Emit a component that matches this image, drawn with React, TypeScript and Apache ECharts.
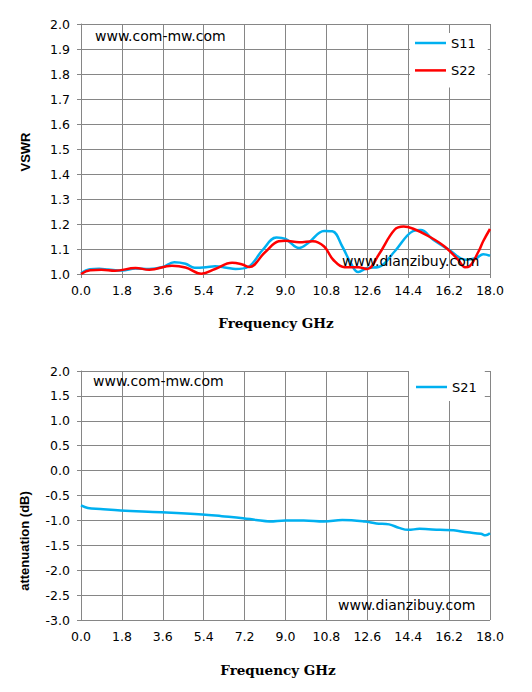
import React, { useEffect, useRef } from "react";
import * as echarts from "echarts";

const xTicks = [0, 1.8, 3.6, 5.4, 7.2, 9.0, 10.8, 12.6, 14.4, 16.2, 18.0];

const s11Freq = [0, 0.4, 0.8, 1.2, 1.8, 2.4, 3.0, 3.6, 4.1, 4.6, 5.0, 5.5, 5.9, 6.4, 6.8, 7.35, 8.0, 8.6, 9.0, 9.6, 10.0, 10.7, 11.06, 11.5, 11.87, 12.2, 12.6, 13.1, 13.8, 14.6, 14.95, 15.5, 16.2, 16.94, 17.4, 17.7, 18.0];
const s11Vals = [1.003, 1.019, 1.021, 1.018, 1.014, 1.022, 1.02, 1.028, 1.047, 1.041, 1.025, 1.027, 1.031, 1.025, 1.02, 1.028, 1.097, 1.146, 1.14, 1.104, 1.124, 1.172, 1.171, 1.11, 1.044, 1.008, 1.024, 1.028, 1.09, 1.171, 1.176, 1.137, 1.097, 1.057, 1.064, 1.079, 1.073];

const s22Freq = [0, 0.4, 0.9, 1.5, 2.4, 3.0, 4.0, 4.6, 5.3, 5.9, 6.65, 7.1, 7.4, 8.1, 8.7, 9.0, 9.6, 10.2, 10.7, 11.1, 11.6, 12.2, 12.6, 13.1, 13.8, 14.2, 14.65, 15.3, 16.0, 16.6, 16.9, 17.1, 17.5, 17.7, 18.0];
const s22Vals = [1.0, 1.015, 1.017, 1.013, 1.024, 1.017, 1.033, 1.026, 1.001, 1.02, 1.045, 1.038, 1.028, 1.087, 1.131, 1.133, 1.127, 1.131, 1.11, 1.057, 1.027, 1.027, 1.02, 1.077, 1.177, 1.19, 1.18, 1.151, 1.11, 1.057, 1.027, 1.031, 1.091, 1.131, 1.18];

const s21Freq = [0, 0.3, 0.85, 1.75, 3.54, 5.34, 6.2, 7.13, 7.7, 8.3, 9.0, 9.8, 10.7, 11.5, 12.5, 13.0, 13.56, 14.0, 14.4, 14.9, 15.8, 16.4, 17.0, 17.6, 17.8, 18.0];
const s21Vals = [-0.7, -0.75, -0.77, -0.8, -0.835, -0.88, -0.915, -0.955, -0.99, -1.02, -1.0, -1.0, -1.02, -0.99, -1.02, -1.06, -1.08, -1.15, -1.19, -1.17, -1.19, -1.2, -1.24, -1.27, -1.3, -1.26];

const pair = (xs: number[], ys: number[]) => xs.map((x, i) => [x, ys[i]]);

const GRID = "#868686";
const tickFont = { fontFamily: "DejaVu Sans", fontSize: 12.5, color: "#000" };

function xAxis(gridIndex: number) {
  return {
    type: "value",
    gridIndex,
    min: 0,
    max: 18,
    interval: 1.8,
    axisLine: { show: true, lineStyle: { color: GRID, width: 1 } },
    axisTick: { show: true, length: 4, lineStyle: { color: GRID } },
    splitLine: { show: true, lineStyle: { color: GRID, width: 1 } },
    axisLabel: { ...tickFont, margin: 10, formatter: (v: number) => v.toFixed(1) },
  };
}

function yAxis(gridIndex: number, min: number, max: number, interval: number) {
  return {
    type: "value",
    gridIndex,
    min,
    max,
    interval,
    axisLine: { show: true, lineStyle: { color: GRID, width: 1 } },
    axisTick: { show: true, length: 4, lineStyle: { color: GRID } },
    splitLine: { show: true, lineStyle: { color: GRID, width: 1 } },
    axisLabel: { ...tickFont, margin: 11, formatter: (v: number) => v.toFixed(1) },
  };
}

const wmStyle = { fontFamily: "DejaVu Sans", fontSize: 14, fill: "#000" };
const titleStyle = { fontFamily: "Liberation Sans", fontSize: 13, fontWeight: "bold", fill: "#000" };
const freqStyle = { fontFamily: "DejaVu Serif", fontSize: 13.5, fontWeight: "bold", fill: "#000" };
const legendText = { fontFamily: "DejaVu Sans", fontSize: 13, color: "#000", lineHeight: 14 };

export default function App() {
  const ref = useRef<HTMLDivElement>(null);
  useEffect(() => {
    if (!ref.current) return;
    const chart = echarts.init(ref.current, undefined, { renderer: "svg" });
    chart.setOption({
      animation: false,
      backgroundColor: "#fff",
      grid: [
        { left: 81, top: 24, width: 409, height: 250 },
        { left: 81, top: 371, width: 409, height: 249 },
      ],
      xAxis: [xAxis(0), xAxis(1)],
      yAxis: [yAxis(0, 1, 2, 0.1), yAxis(1, -3, 2, 0.5)],
      legend: [
        {
          data: ["S11", "S22"],
          orient: "vertical",
          left: 410,
          top: 33,
          backgroundColor: "#fff",
          padding: [3, 12, 10, 5],
          icon: "rect",
          itemWidth: 31,
          itemHeight: 2.5,
          itemGap: 13.4,
          textStyle: legendText,
        },
        {
          data: ["S21"],
          orient: "vertical",
          left: 409,
          top: 371,
          backgroundColor: "#fff",
          padding: [9, 8, 7, 7],
          icon: "rect",
          itemWidth: 31,
          itemHeight: 2.5,
          textStyle: legendText,
        },
      ],
      series: [
        {
          name: "S11",
          type: "line",
          xAxisIndex: 0,
          yAxisIndex: 0,
          data: pair(s11Freq, s11Vals),
          smooth: 0.4,
          symbol: "none",
          lineStyle: { color: "#00B0F0", width: 2.5 },
          itemStyle: { color: "#00B0F0" },
        },
        {
          name: "S22",
          type: "line",
          xAxisIndex: 0,
          yAxisIndex: 0,
          data: pair(s22Freq, s22Vals),
          smooth: 0.4,
          symbol: "none",
          lineStyle: { color: "#FF0000", width: 2.5 },
          itemStyle: { color: "#FF0000" },
        },
        {
          name: "S21",
          type: "line",
          xAxisIndex: 1,
          yAxisIndex: 1,
          data: pair(s21Freq, s21Vals),
          smooth: 0.4,
          symbol: "none",
          lineStyle: { color: "#00B0F0", width: 2.5 },
          itemStyle: { color: "#00B0F0" },
        },
      ],
      graphic: [
        { type: "text", left: 95, top: 29, z: 10, style: { ...wmStyle, text: "www.com-mw.com" } },
        { type: "text", left: 342, top: 254, z: 10, style: { ...wmStyle, text: "www.dianzibuy.com" } },
        { type: "text", left: 93, top: 374, z: 10, style: { ...wmStyle, text: "www.com-mw.com" } },
        { type: "text", left: 338, top: 598, z: 10, style: { ...wmStyle, text: "www.dianzibuy.com" } },
        {
          type: "text", x: 25, y: 152, rotation: Math.PI / 2, z: 10,
          style: { ...titleStyle, text: "VSWR", align: "center", verticalAlign: "middle" },
        },
        {
          type: "text", x: 24, y: 541, rotation: Math.PI / 2, z: 10,
          style: { ...titleStyle, text: "attenuation (dB)", align: "center", verticalAlign: "middle" },
        },
        {
          type: "text", x: 276, y: 323, z: 10,
          style: { ...freqStyle, text: "Frequency GHz", align: "center", verticalAlign: "middle" },
        },
        {
          type: "text", x: 278, y: 670, z: 10,
          style: { ...freqStyle, text: "Frequency GHz", align: "center", verticalAlign: "middle" },
        },
      ],
    });
    return () => chart.dispose();
  }, []);
  return (
    <div
      ref={ref}
      style={{ position: "fixed", left: 0, top: 0, width: 532, height: 692 }}
    />
  );
}
